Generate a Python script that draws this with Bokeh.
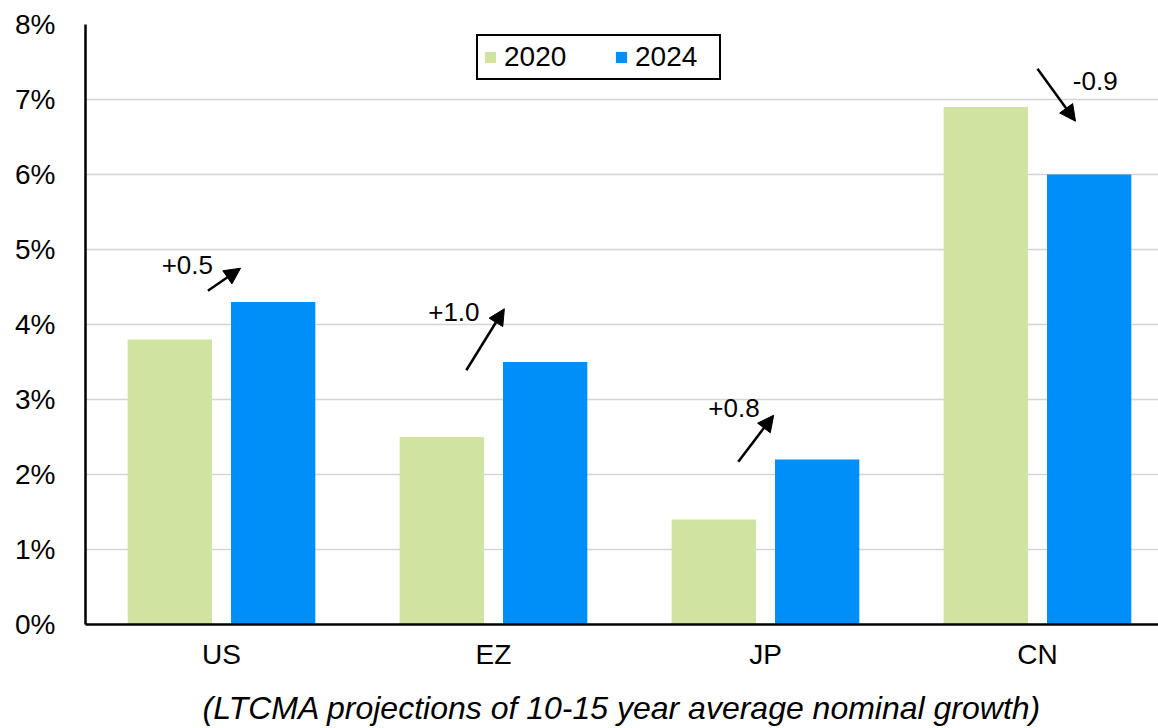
from bokeh.plotting import figure
from bokeh.models import (Range1d, FixedTicker, Legend, LegendItem, Arrow, NormalHead,
                          ColumnDataSource)
from bokeh.embed import file_html
from bokeh.resources import INLINE

# Long-term nominal growth projections (%)
regions = ["US", "EZ", "JP", "CN"]
growth_2020 = [3.8, 2.5, 1.4, 6.9]
growth_2024 = [4.3, 3.5, 2.2, 6.0]
change_labels = ["+0.5", "+1.0", "+0.8", "-0.9"]

# Annotation arrows (data coordinates) and their text anchors
arrow_x0 = [-0.05, 0.90, 1.90, 3.00]
arrow_y0 = [4.45, 3.39, 2.17, 7.41]
arrow_x1 = [0.07, 1.04, 2.03, 3.14]
arrow_y1 = [4.75, 4.21, 2.79, 6.71]
label_x = [-0.22, 0.76, 1.79, 3.13]
label_y = [4.80, 4.17, 2.89, 7.25]

FONT = "Liberation Sans"
GREEN = "#d1e3a0"
BLUE = "#008ff8"

xs = list(range(len(regions)))
offset = 0.19
bar_w = 0.31

p = figure(width=1158, height=728, output_backend="svg", toolbar_location=None,
           x_range=Range1d(-0.5, 3.445), y_range=Range1d(0, 8))
p.min_border_left = 85
p.min_border_right = 0
p.min_border_top = 24
p.min_border_bottom = 104
p.outline_line_color = None
p.background_fill_color = "white"
p.border_fill_color = "white"

src = ColumnDataSource(dict(
    x20=[x - offset for x in xs], x24=[x + offset for x in xs],
    g20=growth_2020, g24=growth_2024))
r20 = p.vbar(x="x20", top="g20", width=bar_w, source=src, fill_color=GREEN, line_color=None)
r24 = p.vbar(x="x24", top="g24", width=bar_w, source=src, fill_color=BLUE, line_color=None)

# Axes
p.yaxis.ticker = FixedTicker(ticks=list(range(0, 9)))
p.yaxis.major_label_overrides = {i: f"{i}%" for i in range(0, 9)}
p.xaxis.ticker = FixedTicker(ticks=xs)
p.xaxis.major_label_overrides = {i: r for i, r in enumerate(regions)}
for ax in (p.xaxis[0], p.yaxis[0]):
    ax.axis_line_color = "black"
    ax.axis_line_width = 2.5
    ax.major_tick_line_color = None
    ax.minor_tick_line_color = None
    ax.major_label_text_font = FONT
    ax.major_label_text_font_size = "28px"
    ax.major_label_text_color = "black"
p.yaxis.major_label_standoff = 24
p.xaxis.major_label_standoff = 8
p.xaxis.axis_label = "(LTCMA projections of 10-15 year average nominal growth)"
p.xaxis.axis_label_text_font = FONT
p.xaxis.axis_label_text_font_style = "italic"
p.xaxis.axis_label_text_font_size = "32px"
p.xaxis.axis_label_text_color = "black"
p.xaxis.axis_label_standoff = 17

p.xgrid.grid_line_color = None
p.ygrid.grid_line_color = "#d4d4d4"
p.ygrid.grid_line_width = 1.5

# Change arrows and labels
for i in range(len(regions)):
    p.add_layout(Arrow(x_start=arrow_x0[i], y_start=arrow_y0[i],
                       x_end=arrow_x1[i], y_end=arrow_y1[i],
                       line_color="black", line_width=2.5,
                       end=NormalHead(size=16, fill_color="black", line_color="black")))
p.text(x=label_x, y=label_y, text=change_labels, text_font_size="26px",
       text_font={"value": FONT}, text_color="black", text_baseline="middle",
       text_align="left")

legend = Legend(items=[LegendItem(label="2020", renderers=[r20]),
                       LegendItem(label="2024", renderers=[r24])],
                orientation="horizontal", location=(391, 544))
legend.label_text_font = FONT
legend.label_text_font_size = "28px"
legend.label_text_color = "black"
legend.glyph_width = 14
legend.glyph_height = 14
legend.label_standoff = 7
legend.label_width = 79
legend.spacing = 31
legend.padding = 5
legend.margin = 0
legend.border_line_color = "black"
legend.border_line_alpha = 1
legend.border_line_width = 2
legend.background_fill_alpha = 1
p.add_layout(legend)

open("out.html", "w").write(file_html(p, INLINE))
